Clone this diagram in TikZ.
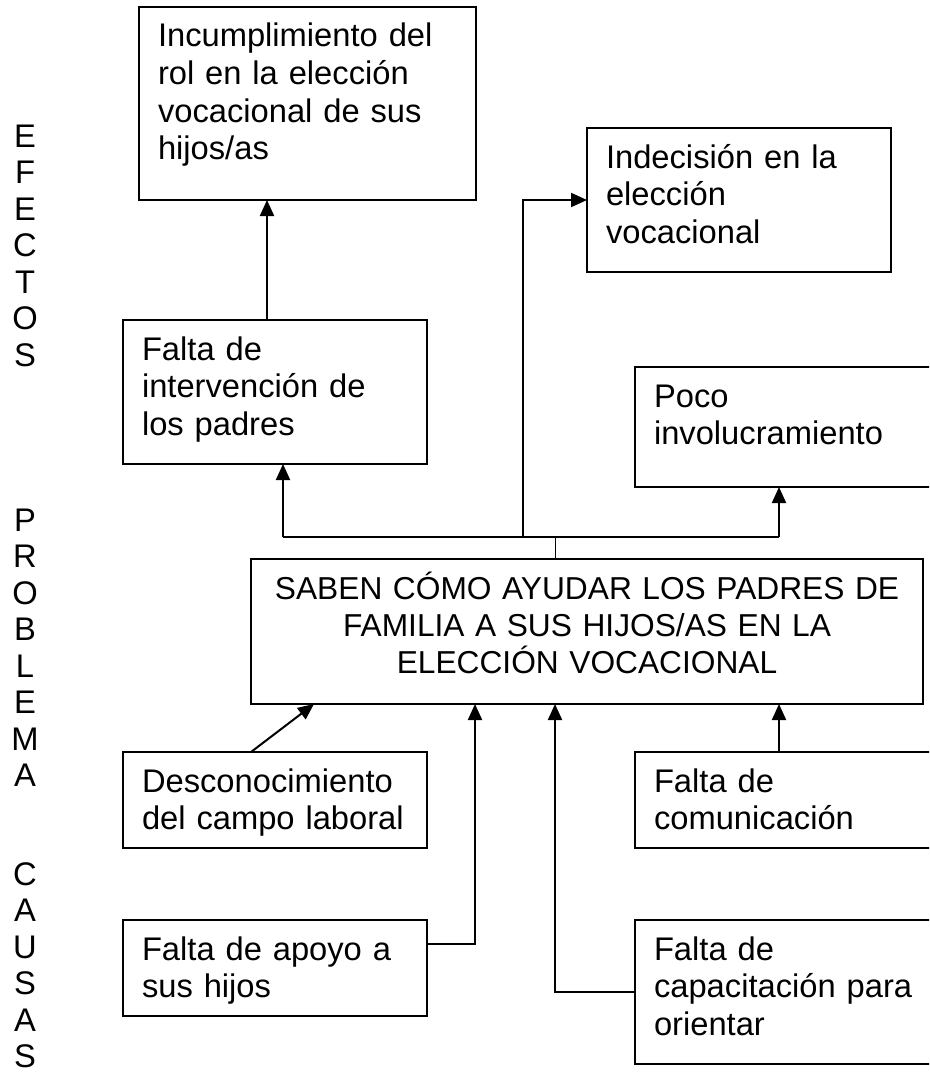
\documentclass[tikz,border=0pt]{standalone}
\usepackage{fontspec}
\setmainfont{Liberation Sans}
\usepackage{tikz}
\usetikzlibrary{positioning,arrows.meta}

\begin{document}
\begin{tikzpicture}[
        x=1pt, y=1pt,
        caja/.style={
            rectangle, line width=2pt, draw = black, outer sep=0pt,
            inner xsep=19pt, inner ysep=0pt, text height=40pt,
            align=left, font=\fontsize{32.7}{37.6}\selectfont
        },
        lateral/.style={
            align=center, inner sep=0pt, anchor=north, font=\fontsize{32.7}{36.5}\selectfont
        },
        flecha/.style={
            line width=2pt, -{Triangle[length=16pt,width=14pt]}
        },
    ]
        \useasboundingbox (0,0) rectangle (929,-1073);
        \clip (0,0) rectangle (929,-1073);

        % columna de la izquierda
        \node (efectosLabel) [lateral] at (25,-124.3) {E\\F\\E\\C\\T\\O\\S};
        \node (problemaLabel) [lateral] at (25,-508.3) {P\\R\\O\\B\\L\\E\\M\\A};
        \node (causasLabel) [lateral] at (25,-862) {C\\A\\U\\S\\A\\S};

        % problema y causas
        \node (problemaCentral) [caja,align=center,inner xsep=2pt,text width=668pt,text depth=105pt,font=\fontsize{31.7}{37.2}\selectfont] at (587,-631.5) { SABEN CÓMO AYUDAR LOS PADRES DE\\FAMILIA A SUS HIJOS/AS EN LA\\ELECCIÓN VOCACIONAL };
        \node (desconocimiento) [caja,text width=266pt,text depth=56pt] at (275,-800) { Desconocimiento\\del campo laboral };
        \node (faltaApoyo) [caja,text width=266pt,text depth=56pt,below=72pt of desconocimiento] { Falta de apoyo a\\sus hijos };
        \node (faltaComunicacion) [caja,text width=266pt,text depth=56pt,right=208pt of desconocimiento] { Falta de\\comunicación };
        \node (faltaCapacitacion) [caja,text width=266pt,text depth=104pt,below=72pt of faltaComunicacion] { Falta de\\capacitación para\\orientar };

        % efectos
        \node (faltaIntervencion) [caja,text width=266pt,text depth=104pt,above=288pt of desconocimiento] { Falta de\\intervención de\\los padres };
        \node (incumplimientoRol) [caja,text width=299pt,text depth=153pt,above=120pt of faltaIntervencion,xshift=32.5pt] { Incumplimiento del\\rol en la elección\\vocacional de sus\\hijos/as };
        \node (pocoInvolucramiento) [caja,text width=266pt,text depth=80pt,above=265pt of faltaComunicacion] { Poco\\involucramiento };
        \node (indecision) [caja,text width=266pt,text depth=104pt,above=95pt of pocoInvolucramiento,xshift=-48pt] { Indecisión en la\\elección\\vocacional };

        % conectores hacia los efectos
        \coordinate (union) at ([xshift=-32pt,yshift=22pt]problemaCentral.north);
        \draw[line width=1pt] ([xshift=-32pt]problemaCentral.north) -- (union);
        \draw[line width=2pt] ([xshift=8pt]faltaIntervencion.south |- union) -- ([xshift=-8pt]pocoInvolucramiento.south |- union);
        \draw[flecha] ([xshift=8pt]faltaIntervencion.south |- union) -- ([xshift=8pt]faltaIntervencion.south);
        \draw[flecha] ([xshift=-8pt]pocoInvolucramiento.south |- union) -- ([xshift=-8pt]pocoInvolucramiento.south);
        \draw[flecha] ([xshift=-64pt]indecision.west |- union) |- (indecision.west);
        \draw[flecha] ([xshift=-8pt]faltaIntervencion.north) -- ([xshift=-8pt]faltaIntervencion.north |- incumplimientoRol.south);

        % conectores desde las causas
        \draw[flecha] (problemaCentral.south west |- desconocimiento.north) -- ([xshift=63pt]problemaCentral.south west);
        \draw[flecha] ([yshift=24pt]faltaApoyo.east) -| ([xshift=-112pt]problemaCentral.south);
        \draw[flecha] (faltaCapacitacion.west) -| ([xshift=-32pt]problemaCentral.south);
        \draw[flecha] ([xshift=-8pt]faltaComunicacion.north) -- ([xshift=-8pt]faltaComunicacion.north |- problemaCentral.south);

    \end{tikzpicture}
\end{document}
